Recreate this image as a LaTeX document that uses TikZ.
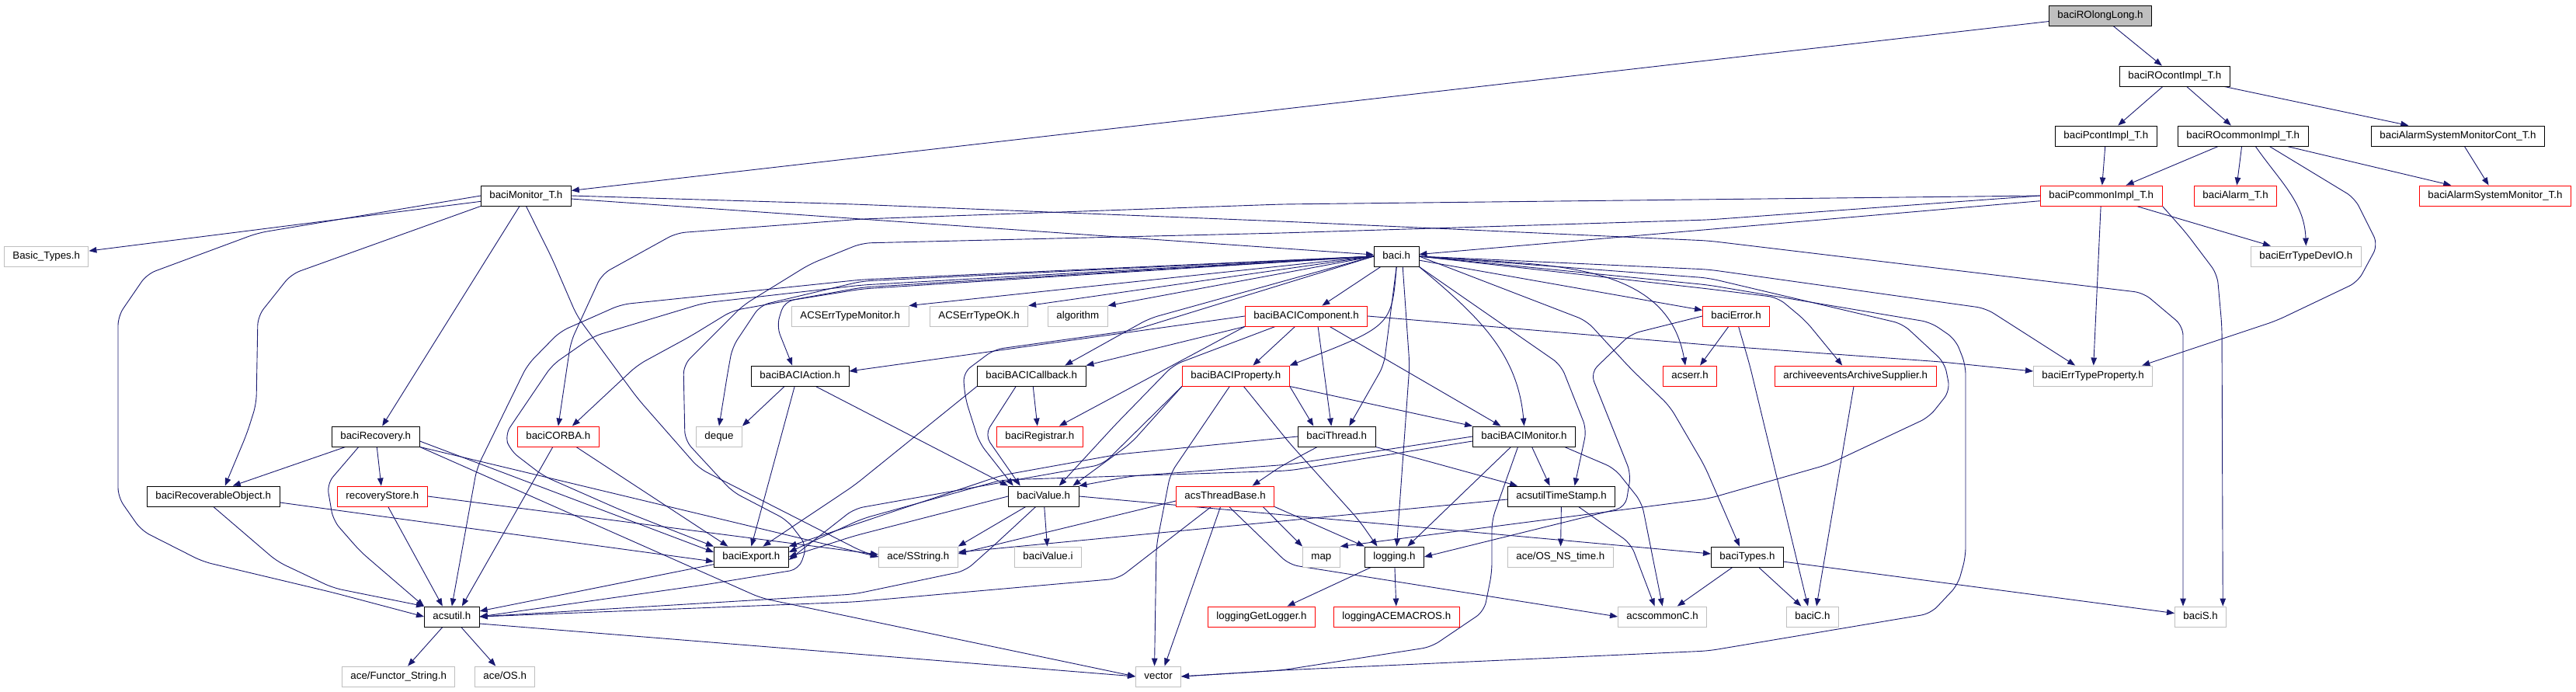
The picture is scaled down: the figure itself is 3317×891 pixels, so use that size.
\documentclass[tikz,border=0pt]{standalone}
\usepackage{fontspec}
\setmainfont{Liberation Sans}
\usetikzlibrary{arrows.meta}
\definecolor{edgeblue}{HTML}{191970}
\definecolor{nodegray}{HTML}{BFBFBF}
\pgfdeclarelayer{bg}
\pgfsetlayers{bg,main}
\begin{document}
\begin{tikzpicture}[x=1pt,y=-1pt,
  nbox/.style={anchor=west, draw, fill=white, line width=0.9pt, inner xsep=11pt, inner ysep=0pt, minimum height=26pt, text height=9.6pt, text depth=2.7pt, font=\fontsize{13.3}{15}\selectfont},
  nblack/.style={nbox, draw=black},
  nred/.style={nbox, draw=red},
  ngray/.style={nbox, draw=nodegray},
  lnk/.style={draw=edgeblue, line width=0.9pt, -{Triangle[length=10pt,width=7.5pt]}},
  lnkr/.style={lnk, rounded corners=12pt}]
\begin{pgfonlayer}{bg}
\fill[white] (0,0) rectangle (3317,891);
\end{pgfonlayer}
\useasboundingbox (0,0) rectangle (3317,891);
% nodes
\node[nblack, fill=nodegray] (rolong) at (2638,20) {baciROlongLong.h};
\node[nblack] (rocont) at (2729,98) {baciROcontImpl\_T.h};
\node[nblack] (pcont) at (2646,175) {baciPcontImpl\_T.h};
\node[nblack] (rocommon) at (2804,175) {baciROcommonImpl\_T.h};
\node[nblack] (asmcont) at (3053,175) {baciAlarmSystemMonitorCont\_T.h};
\node[nred] (pcommon) at (2627,252) {baciPcommonImpl\_T.h};
\node[nred] (alarm) at (2825,252) {baciAlarm\_T.h};
\node[nred] (asm) at (3115,252) {baciAlarmSystemMonitor\_T.h};
\node[ngray] (devio) at (2898,330) {baciErrTypeDevIO.h};
\node[nblack] (mon) at (619,252) {baciMonitor\_T.h};
\node[ngray] (basic) at (5,330) {Basic\_Types.h};
\node[nblack] (baci) at (1769,330) {baci.h};
\node[ngray] (etmon) at (1019,407) {ACSErrTypeMonitor.h};
\node[ngray] (etok) at (1197,407) {ACSErrTypeOK.h};
\node[ngray] (algo) at (1349,407) {algorithm};
\node[nred] (comp) at (1603,407) {baciBACIComponent.h};
\node[ngray] (etprop) at (2618,484) {baciErrTypeProperty.h};
\node[nred] (err) at (2192,407) {baciError.h};
\node[nred] (acserr) at (2141,484) {acserr.h};
\node[nred] (arch) at (2285,484) {archiveeventsArchiveSupplier.h};
\node[nblack] (action) at (967,484) {baciBACIAction.h};
\node[nblack] (callback) at (1258,484) {baciBACICallback.h};
\node[nred] (prop) at (1522,484) {baciBACIProperty.h};
\node[nblack] (recov) at (427,562) {baciRecovery.h};
\node[nred] (corba) at (666,562) {baciCORBA.h};
\node[ngray] (deque) at (896,562) {deque};
\node[nred] (registrar) at (1283,562) {baciRegistrar.h};
\node[nblack] (thread) at (1671,562) {baciThread.h};
\node[nblack] (bmon) at (1896,562) {baciBACIMonitor.h};
\node[nblack] (recobj) at (189,639) {baciRecoverableObject.h};
\node[nred] (rstore) at (434,639) {recoveryStore.h};
\node[nblack] (value) at (1298,639) {baciValue.h};
\node[nred] (tbase) at (1514,639) {acsThreadBase.h};
\node[nblack] (tstamp) at (1941,639) {acsutilTimeStamp.h};
\node[nblack] (export) at (919,717) {baciExport.h};
\node[ngray] (sstring) at (1131,717) {ace/SString.h};
\node[ngray] (valuei) at (1306,717) {baciValue.i};
\node[ngray] (map) at (1677,717) {map};
\node[nblack] (logging) at (1757,717) {logging.h};
\node[ngray] (nstime) at (1941,717) {ace/OS\_NS\_time.h};
\node[nblack] (types) at (2203,717) {baciTypes.h};
\node[nblack] (acsutil) at (546,794) {acsutil.h};
\node[nred] (getlog) at (1555,794) {loggingGetLogger.h};
\node[nred] (acemac) at (1717,794) {loggingACEMACROS.h};
\node[ngray] (common) at (2083,794) {acscommonC.h};
\node[ngray] (bacic) at (2300,794) {baciC.h};
\node[ngray] (bacis) at (2800,794) {baciS.h};
\node[ngray] (functor) at (440,871) {ace/Functor\_String.h};
\node[ngray] (aceos) at (611,871) {ace/OS.h};
\node[ngray] (vector) at (1462,871) {vector};
\begin{pgfonlayer}{bg}
% top
\draw[lnk] (rolong) -- (mon);
\draw[lnk] (rolong) -- (rocont);
\draw[lnk] (rocont) -- (pcont);
\draw[lnk] (rocont) -- (rocommon);
\draw[lnk] (rocont) -- (asmcont);
\draw[lnk] (pcont) -- (pcommon);
\draw[lnk] (rocommon) -- (pcommon);
\draw[lnk] (rocommon) -- (alarm);
\draw[lnk] (rocommon) -- (asm);
\draw[lnk] (asmcont) -- (asm);
\draw[lnk] ([xshift=16pt]rocommon.south) to[out=-55,in=92] (devio.north);
\draw[lnkr] ([xshift=34pt]rocommon.south) -- (3032,255) -- (3062,315) -- (3036,363) -- (2931,413) -- ([xshift=-14pt]etprop.north east);
\draw[lnk] (pcommon) -- (devio);
\draw[lnk] (pcommon) -- (etprop);
\draw[lnkr] (pcommon.south east) -- (2815,300) -- (2855,353) -- (2861,420) -- ([xshift=-5pt]bacis.north east);
\draw[lnk] (pcommon) -- (baci);
\draw[lnkr] (pcommon.west) -- (1650,263) -- (1110,282) -- (871,300) -- (775,353) -- (735,440) -- (corba.north);
\draw[lnkr] (pcommon.west) -- (2200,283) -- (1650,300) -- (1110,313) -- (1043,340) -- (957,393) -- (880,470) -- (882,567) -- (943,633) -- (1014,670) -- (1039,703) -- (1029,733) -- (907,753) -- (acsutil.east);
% monitor
\draw[lnk] (mon) -- (basic);
\draw[lnkr] (mon.west) -- (332,300) -- (189,353) -- (152,407) -- (152,640) -- (182,683) -- (261,723) -- (429,763) -- (acsutil.west);
\draw[lnkr] (mon.south west) -- (375,353) -- (332,407) -- (330,520) -- (318,558) -- ([xshift=15pt]recobj.north);
\draw[lnk] (mon) -- (recov);
\draw[lnkr] (mon.south) -- (711,333) -- (743,407) -- (821,513) -- (900,603) -- (1110,710) -- (sstring.west);
\draw[lnk] (mon) -- (baci);
\draw[lnkr] (mon.east) -- (1100,263) -- (1650,285) -- (2200,310) -- (2760,377) -- (2811,420) -- ([xshift=11pt]bacis.north west);
% baci
\draw[lnk] (baci.west) -- (etmon.north east);
\draw[lnk] (baci.west) -- (etok.north east);
\draw[lnk] (baci.west) -- (algo.north east);
\draw[lnk] (baci) -- (comp);
\draw[lnk] (baci) -- (err);
\draw[lnkr] (baci.west) -- (1110,372) -- (1010,388) -- (1000,420) -- ([xshift=-10pt]action.north);
\draw[lnkr] (baci.west) -- (1660,360) -- (1480,410) -- ([xshift=43pt]callback.north);
\draw[lnk] (baci.south) .. controls (1792,420) .. (prop.north east);
\draw[lnkr] (baci.west) -- (1110,362) -- (979,393) -- (943,447) -- (937,480) -- (deque.north);
\draw[lnkr] (baci.west) -- (1110,370) -- (943,400) -- (889,433) -- (821,470) -- ([xshift=18pt]corba.north);
\draw[lnkr] (baci.west) -- (1110,360) -- (800,392) -- (721,427) -- (679,470) -- (614,603) -- (acsutil.north);
\draw[lnkr] (baci.west) -- (1110,367) -- (907,390) -- (764,433) -- (711,470) -- (650,560) -- (657,580) -- (700,613) -- (800,657) -- (export.north west);
\draw[lnkr] (baci.west) -- (1460,425) -- (1280,450) -- (1240,480) -- (1243,513) -- (1261,570) -- ([xshift=-39pt]value.north);
\draw[lnkr] (baci.south) -- (1782,470) -- ([xshift=16pt]thread.north);
\draw[lnkr] ([xshift=8pt]baci.south) -- (1815,470) -- ([xshift=3pt]logging.north);
\draw[lnk] (baci.south east) to[out=-40,in=95] (bmon.north);
\draw[lnkr] (baci.south east) -- (2010,470) -- (2043,553) -- ([xshift=17pt]tstamp.north);
\draw[lnkr] (baci.east) -- (2043,413) -- (2100,475) -- (2150,523) -- (2195,600) -- ([xshift=-10pt]types.north);
\draw[lnk] (baci.east) to[out=-5,in=100] ([xshift=-6pt]acserr.north);
\draw[lnkr] (baci.east) -- (2200,372) -- (2289,383) -- (2325,413) -- ([xshift=-17pt]arch.north);
\draw[lnkr] (baci.east) -- (2200,347) -- (2557,397) -- ([xshift=-23pt]etprop.north);
\draw[lnkr] (baci.east) -- (2200,358) -- (2450,417) -- (2504,467) -- (2511,503) -- (2484,537) -- (2354,598) -- (2200,642) -- (map.north east);
\draw[lnkr] (baci.east) -- (2200,367) -- (2486,415) -- (2518,437) -- (2531,470) -- (2531,717) -- (2521,753) -- (2486,790) -- (2200,838) -- (1650,863) -- (vector.east);
% component
\draw[lnk] (comp.west) -- ([yshift=6pt]action.east);
\draw[lnk] (comp.south west) -- (callback.north east);
\draw[lnk] (comp) -- ([xshift=22pt]prop.north);
\draw[lnk] (comp.south west) -- ([xshift=25pt]registrar.north);
\draw[lnk] ([xshift=15pt]comp.south) -- ([xshift=-7pt]thread.north);
\draw[lnk] ([xshift=30pt]comp.south) -- ([xshift=-30pt]bmon.north);
\draw[lnkr] (comp.east) -- (2210,445) -- (2500,466) -- ([yshift=6pt]etprop.west);
\draw[lnkr] ([xshift=-40pt]comp.south) -- (1511,470) -- (1436,547) -- ([xshift=20pt]value.north);
% error
\draw[lnk] (err) -- ([xshift=13pt]acserr.north);
\draw[lnkr] ([xshift=3pt]err.south) -- (2253,470) -- ([xshift=-6pt]bacic.north);
\draw[lnkr] (err.west) -- (2100,430) -- (2048,480) -- (2100,610) -- (2093,653) -- (logging.east);
% property
\draw[lnk] (prop.south east) -- ([xshift=-30pt]thread.north);
\draw[lnk] (prop.south east) -- (bmon.north west);
\draw[lnkr] ([xshift=10pt]prop.south) -- (1660,570) -- (1750,670) -- ([xshift=-22pt]logging.north);
\draw[lnkr] ([xshift=-8pt]prop.south) -- (1507,610) -- (1489,703) -- ([xshift=-5pt]vector.north);
\draw[lnkr] (prop.south west) -- (1457,570) -- ([xshift=-8pt]value.north east);
\draw[lnkr] (prop.south west) -- (1420,598) -- (1100,655) -- ([yshift=-4pt]export.east);
% callback, action
\draw[lnk] ([xshift=2pt]callback.south) -- ([xshift=-3pt]registrar.north);
\draw[lnkr] ([xshift=-20pt]callback.south) -- (1268,560) -- ([xshift=-30pt]value.north);
\draw[lnkr] (callback.south west) -- (1100,625) -- ([xshift=15pt]export.north);
\draw[lnk] ([xshift=-7pt]action.south) -- (export.north);
\draw[lnk] ([xshift=-20pt]action.south) -- (deque.north east);
\draw[lnk] ([xshift=20pt]action.south) -- (value.north west);
% recovery
\draw[lnk] (recov) -- ([xshift=25pt]recobj.north);
\draw[lnk] (recov) -- (rstore);
\draw[lnkr] ([xshift=-22pt]recov.south) -- (421,623) -- (429,670) -- (464,710) -- (acsutil.north west);
\draw[lnk] ([yshift=-6pt]recov.east) -- ([yshift=6pt]export.west);
\draw[lnk] (recov.south east) -- (sstring.west);
\draw[lnkr] (recov.south east) -- (980,770) -- (vector.west);
\draw[lnk] ([yshift=-8pt]recobj.east) -- ([yshift=-6pt]export.west);
\draw[lnkr] (recobj.south) -- (357,723) -- (429,757) -- (acsutil.north west);
\draw[lnk] (rstore) -- ([xshift=-12pt]acsutil.north);
\draw[lnk] (rstore.east) -- ([yshift=3pt]sstring.west);
\draw[lnk] ([xshift=-7pt]corba.south) -- ([xshift=13pt]acsutil.north);
\draw[lnk] ([xshift=23pt]corba.south) -- ([xshift=-30pt]export.north);
% acsutil, export
\draw[lnk] (acsutil) -- (functor);
\draw[lnk] (acsutil) -- (aceos);
\draw[lnk] ([yshift=-9pt]acsutil.east) -- (vector.west);
\draw[lnk] (export) -- (acsutil);
% value
\draw[lnk] (value) -- (sstring.north east);
\draw[lnk] (value) -- (valuei);
\draw[lnkr] ([xshift=-10pt]value.south) -- (1279,703) -- (1243,735) -- (1100,765) -- (acsutil.east);
\draw[lnkr] (value.west) -- (1100,690) -- (export.east);
\draw[lnk] (value.east) -- ([yshift=4pt]types.west);
% thread base
\draw[lnkr] ([xshift=-18pt]tbase.south) -- (1440,745) -- (1100,775) -- (acsutil.east);
\draw[lnk] ([yshift=-6pt]tbase.west) -- ([yshift=4pt]sstring.east);
\draw[lnk] ([xshift=-6pt]tbase.south) -- ([xshift=8pt]vector.north);
\draw[lnk] (tbase.south east) -- (logging.north west);
\draw[lnk] ([xshift=-15pt]tbase.south east) -- (map.north west);
\draw[lnkr] ([xshift=5pt]tbase.south) -- (1660,727) -- (common.west);
% thread
\draw[lnk] (thread.south east) -- ([xshift=13pt]tstamp.north west);
\draw[lnkr] ([xshift=-25pt]thread.south) -- (1650,600) -- ([xshift=35pt]tbase.north);
\draw[lnkr] (thread.west) -- (1440,585) -- (1290,612) -- (export.north east);
% BACI monitor
\draw[lnkr] (bmon.west) -- (1660,598) -- (1457,613) -- (value.north east);
\draw[lnkr] ([yshift=-6pt]bmon.west) -- (1660,606) -- (1290,618) -- (1110,668) -- ([yshift=6pt]export.east);
\draw[lnk] ([xshift=-17pt]bmon.south) -- ([xshift=17pt]logging.north);
\draw[lnkr] ([xshift=-8pt]bmon.south) -- (1921,670) -- (1921,737) -- (1911,787) -- (1843,833) -- (1650,863) -- (vector.east);
\draw[lnkr] ([xshift=52pt]bmon.south) -- (2079,603) -- (2114,647) -- (common.north);
\draw[lnk] ([xshift=10pt]bmon.south) -- ([xshift=-15pt]tstamp.north);
% time stamp
\draw[lnk] (tstamp) -- (nstime);
\draw[lnkr] ([xshift=22pt]tstamp.south) -- (2100,700) -- ([xshift=-10pt]common.north);
\draw[lnk] ([yshift=-4pt]tstamp.west) -- ([yshift=6pt]sstring.east);
% logging, types
\draw[lnk] ([xshift=-30pt]logging.south) -- ([xshift=33pt]getlog.north);
\draw[lnk] (logging) -- (acemac);
\draw[lnk] (types) -- (bacic);
\draw[lnk] (types) -- (common);
\draw[lnk] (types) -- (bacis);
\draw[lnk] (arch) -- ([xshift=5pt]bacic.north);
\end{pgfonlayer}
\end{tikzpicture}
\end{document}
